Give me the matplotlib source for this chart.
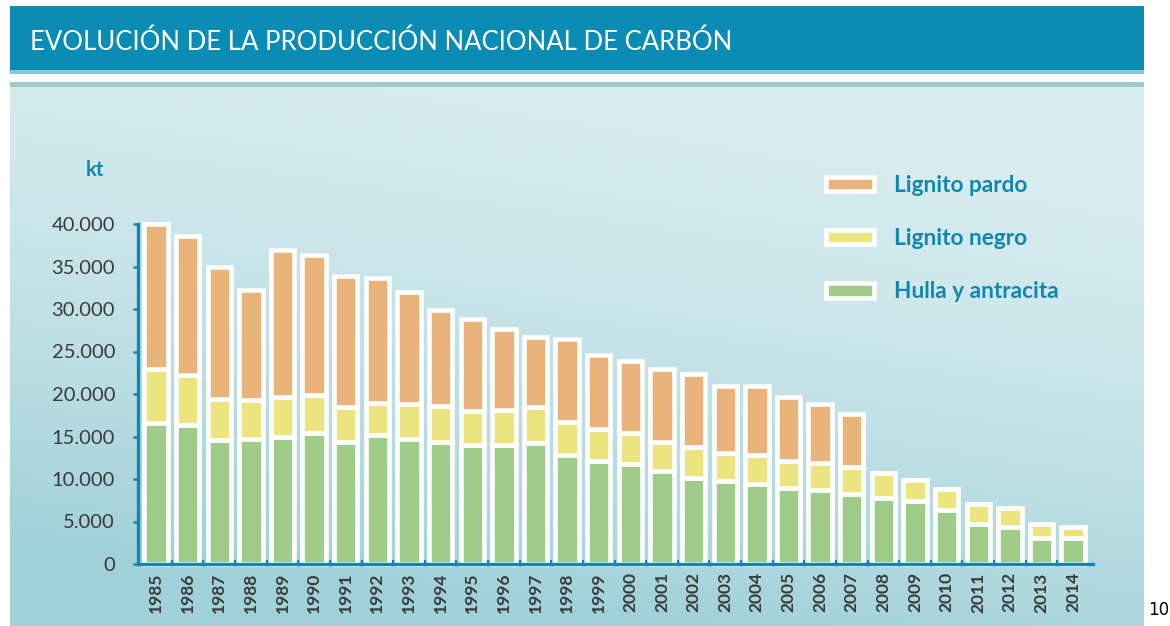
import numpy as np
import matplotlib
matplotlib.use('Agg')
import matplotlib.pyplot as plt
from matplotlib.ticker import FuncFormatter, FixedLocator

plt.rcParams['font.family'] = ['Lato', 'DejaVu Sans']

# produccion nacional de carbon (kt)
years = [str(y) for y in range(1985, 2015)]
hulla = [16600, 16300, 14550, 14700, 14980, 15370, 14400, 15140, 14700, 14400,
         14000, 14000, 14240, 12820, 12160, 11760, 10900, 10120, 9730, 9370,
         8940, 8750, 8240, 7760, 7370, 6350, 4670, 4310, 3020, 3100]
negro = [6300, 5900, 4850, 4600, 4670, 4530, 4070, 3800, 4080, 4150,
         4040, 4160, 4230, 3930, 3680, 3640, 3500, 3610, 3290, 3410,
         3220, 3170, 3170, 2940, 2530, 2500, 2380, 2290, 1680, 1300]
pardo = [17100, 16400, 15600, 12900, 17350, 16400, 15430, 14760, 13220, 11350,
         10760, 9440, 8230, 9750, 8760, 8500, 8600, 8570, 7880, 8120,
         7540, 6880, 6190, 0, 0, 0, 0, 0, 0, 0]
yticks = [0, 5000, 10000, 15000, 20000, 25000, 30000, 35000, 40000]

c_hulla = '#9fcc88'
c_negro = '#ebe47f'
c_pardo = '#e9b479'
blue = '#1187b0'
txt = '#3a3a3a'

W, H = 1170, 626
fig = plt.figure(figsize=(W / 100, H / 100), dpi=100)

# page background: header band, stripes and soft teal gradient
bg = np.ones((H, W, 3))
yy, xx = np.mgrid[0:H, 0:W]
fy = yy / H
fx = xx / W
t = np.clip(0.9 * fy ** 1.8 + 0.35 * (1 - fx) * fy + 0.12 * (1 - fx) - 0.1, 0, 1)
light = np.array([0.85, 0.93, 0.94])
dark = np.array([0.63, 0.82, 0.85])
grad = light * (1 - t[..., None]) + dark * t[..., None]
bg[87:, 10:1144] = grad[87:, 10:1144]
bg[6:70, 10:1144] = np.array([11, 140, 180]) / 255
bg[70:74, 10:1144] = np.array([134, 202, 208]) / 255
bg[74:82, 10:1144] = 1.0
bg[82:87, 10:1144] = np.array([160, 201, 203]) / 255
bax = fig.add_axes([0, 0, 1, 1], zorder=-10)
bax.imshow(bg, aspect='auto', interpolation='bilinear')
bax.axis('off')

fig.text(30 / W, 1 - 42 / H, 'EVOLUCIÓN DE LA PRODUCCIÓN NACIONAL DE CARBÓN',
         color='white', fontsize=18.5, fontweight='normal', va='center', ha='left')

ax = fig.add_axes([138 / W, 62 / H, (1093 - 138) / W, (564 - 224) / H])
ax.patch.set_alpha(0)

x = np.arange(len(years))
bw = 0.74
lw = 3.3
base2 = np.array(hulla) + np.array(negro)
b1 = ax.bar(x, hulla, bw, color=c_hulla, edgecolor='white', linewidth=lw,
            label='Hulla y antracita', clip_on=False)
b2 = ax.bar(x, negro, bw, bottom=hulla, color=c_negro, edgecolor='white',
            linewidth=lw, label='Lignito negro', clip_on=False)
b3 = ax.bar(x, pardo, bw, bottom=base2, color=c_pardo, edgecolor='white',
            linewidth=lw, label='Lignito pardo', clip_on=False)

ax.set_xlim(-0.57, 29.63)
ax.set_ylim(0, 40000)
for s in ['top', 'right']:
    ax.spines[s].set_visible(False)
for s in ['left', 'bottom']:
    ax.spines[s].set_color(blue)
    ax.spines[s].set_linewidth(2.4)
    ax.spines[s].set_zorder(5)

ax.set_yticks(yticks)
ax.yaxis.set_major_formatter(FuncFormatter(lambda v, p: f'{int(v):,}'.replace(',', '.')))
ax.tick_params(axis='y', length=3.5, width=1.8, color=blue, pad=13,
               labelsize=14.5, labelcolor=txt)

ax.set_xticks(x)
ax.set_xticklabels(years, rotation=90, fontweight='bold')
ax.tick_params(axis='x', length=0, pad=6, labelsize=12.5, labelcolor=txt)
ax.xaxis.set_minor_locator(FixedLocator(x[:-1] + 0.5))
ax.tick_params(axis='x', which='minor', direction='in', length=3, width=1.5, color=blue)

fig.text(95 / W, 1 - 170 / H, 'kt', color=blue, fontsize=14.5, fontweight='bold',
         ha='center', va='center')

leg = ax.legend(handles=[b3, b2, b1], loc='upper left',
                bbox_to_anchor=(826 / W, 1 - 175 / H), bbox_transform=fig.transFigure,
                frameon=False, fontsize=16.3, handlelength=2.1, handleheight=0.6,
                handletextpad=0.9, labelspacing=1.42, borderpad=0, borderaxespad=0)
for tx in leg.get_texts():
    tx.set_color(blue)
    tx.set_fontweight('bold')

fig.text(1159 / W, 1 - 610 / H, '10', color='black', fontsize=12,
         ha='center', va='center', family=['DejaVu Sans'])

fig.savefig('out.png', dpi=100)
